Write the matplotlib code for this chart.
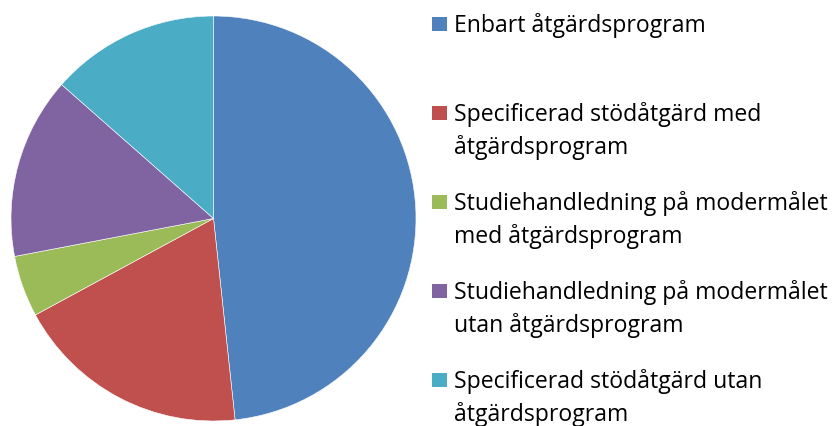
import matplotlib.pyplot as plt
from matplotlib.patches import Rectangle

# data (andelar i procent, avlasta fran bilden)
labels = [
    "Enbart åtgärdsprogram",
    "Specificerad stödåtgärd med\nåtgärdsprogram",
    "Studiehandledning på modermålet\nmed åtgärdsprogram",
    "Studiehandledning på modermålet\nutan åtgärdsprogram",
    "Specificerad stödåtgärd utan\nåtgärdsprogram",
]
values = [48.3, 18.8, 4.9, 14.5, 13.5]
colors = ["#4F81BD", "#C0504D", "#9BBB59", "#8064A2", "#4BACC6"]

W, H = 834, 426
fig = plt.figure(figsize=(W / 100, H / 100), dpi=100)

# pie: center (213.5, 218.5) px, radius 202.5 px
cx, cy, r = 213.5, 218.5, 202.5
ax = fig.add_axes([(cx - r) / W, (H - cy - r) / H, 2 * r / W, 2 * r / H])
ax.pie(values, colors=colors, startangle=90, counterclock=False,
       wedgeprops=dict(edgecolor="white", linewidth=0.4))
ax.set_xlim(-1, 1)
ax.set_ylim(-1, 1)
ax.set_aspect("equal")
ax.axis("off")

# legend, placerad for hand
first_base = 32.3
step = 89.0
line_gap = 33.0
for i, (lab, col) in enumerate(zip(labels, colors)):
    base = first_base + i * step
    fig.patches.append(Rectangle((432 / W, 1 - (base - 1) / H), 14.5 / W, 14.5 / H,
                                 transform=fig.transFigure, facecolor=col,
                                 edgecolor="none"))
    for j, line in enumerate(lab.split("\n")):
        fig.text(454 / W, 1 - (base + j * line_gap) / H, line,
                 fontsize=16.6, family="Open Sans", color="#000000",
                 va="baseline", ha="left")

fig.savefig("out.png", dpi=100)
